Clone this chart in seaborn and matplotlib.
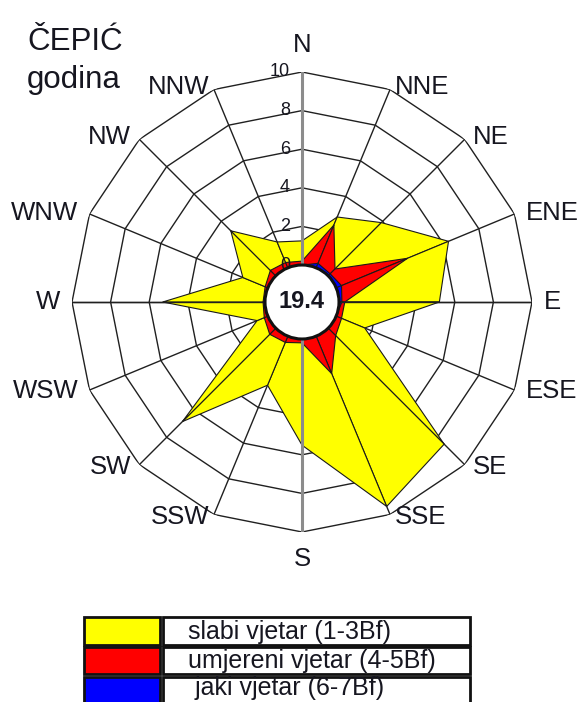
import numpy as np
import matplotlib
matplotlib.use("Agg")
import matplotlib.pyplot as plt
import seaborn as sns
from matplotlib.patches import Rectangle, Circle
from matplotlib.transforms import ScaledTranslation

# ---------------- data ----------------
directions = ["N", "NNE", "NE", "ENE", "E", "ESE", "SE", "SSE",
              "S", "SSW", "SW", "WSW", "W", "WNW", "NW", "NNW"]
slabi = [1.05, 0.45, 3.4, 2.3, 4.9, 1.3, 7.95, 7.45,
         5.3, 2.4, 6.4, 0.4, 5.2, 1.25, 2.9, 1.15]
umjereni = [0.2, 2.15, 0.35, 3.7, 0.15, 0.3, 0.55, 2.1,
            0.2, 0.35, 0.45, 0.2, 0.1, 0.15, 0.4, 0.3]
jaki = [0.0, 0.25, 0.15, 0.3, 0.15, 0.0, 0.0, 0.0,
        0.0, 0.0, 0.0, 0.0, 0.0, 0.0, 0.0, 0.0]
calm = 19.4
ring_ticks = [0, 2, 4, 6, 8, 10]
legend_labels = ["slabi vjetar (1-3Bf)", "umjereni vjetar (4-5Bf)", " jaki vjetar (6-7Bf)"]
layer_colors = ["#FFFF00", "#FF0000", "#0000FF"]
title_lines = ["ČEPIĆ", "godina"]

# ---------------- style ----------------
sns.set_theme(style="white")
plt.rcParams['font.family'] = ['Liberation Sans', 'DejaVu Sans']
TXT = "#161620"

W_PX, H_PX = 581, 702
fig = plt.figure(figsize=(W_PX / 100, H_PX / 100), dpi=100)
cx, cy, R = 302, 302, 230          # centre and outer-ring radius in px
r0_px = 37                          # radius of the calm circle
rorigin = -r0_px * 10 / (R - r0_px)

ax = fig.add_axes([(cx - R) / W_PX, (H_PX - cy - R) / H_PX, 2 * R / W_PX, 2 * R / H_PX],
                  projection='polar')
ax.set_theta_zero_location('N')
ax.set_theta_direction(-1)
ax.set_ylim(0, 10)
ax.set_rorigin(rorigin)
ax.grid(False)
ax.set_xticks([])
ax.set_yticks([])
ax.spines['polar'].set_visible(False)
ax.patch.set_alpha(0)

n = len(directions)
theta = np.linspace(0, 2 * np.pi, n, endpoint=False)
theta_closed = np.append(theta, 2 * np.pi)

# grid: 16-gon rings and spokes
for v in ring_ticks[1:]:
    sns.lineplot(x=theta_closed, y=[v] * (n + 1), ax=ax, sort=False, estimator=None,
                 color="#202020", lw=1.0, zorder=1)
for t in theta:
    ax.plot([t, t], [0, 10], color="#202020", lw=1.0, zorder=1)

# stacked (cumulative) layers
total = np.array(slabi) + np.array(umjereni) + np.array(jaki)
mid = np.array(umjereni) + np.array(jaki)
strong = np.array(jaki)
for vals, col, z in [(total, layer_colors[0], 2), (mid, layer_colors[1], 3), (strong, layer_colors[2], 4)]:
    for i in range(n):
        j = (i + 1) % n
        ti, tj = theta[i], theta_closed[i + 1]
        if vals[i] == 0 and vals[j] == 0:
            continue
        ax.fill([ti, ti, tj, tj], [0, vals[i], vals[j], 0], facecolor=col,
                edgecolor="#1a1a1a", lw=0.8, zorder=z)

# main axes lines on top
ax.plot([0, 0], [0, 10], color="#8c8c8c", lw=2.2, zorder=6)
ax.plot([np.pi, np.pi], [0, 10], color="#8c8c8c", lw=2.2, zorder=6)
ax.plot([np.pi / 2, np.pi / 2], [0, 10], color="#202020", lw=1.0, zorder=6)
ax.plot([3 * np.pi / 2, 3 * np.pi / 2], [0, 10], color="#202020", lw=1.0, zorder=6)

# ring labels on the N axis
off = ScaledTranslation(-12 / 100, 0, fig.dpi_scale_trans)
for v in ring_ticks:
    ax.text(0, v, str(v), ha='right', va='center', fontsize=13, color=TXT,
            transform=ax.transData + off, zorder=7)

# direction labels (placed just outside the outer ring)
for t, d in zip(theta, directions):
    s, c = np.sin(t), np.cos(t)
    if abs(s) < 0.1:
        dx, dy, ha = 0.0, 257 * np.sign(c), 'center'
    else:
        dx, dy = 242 * s, 233 * c
        ha = 'left' if s > 0 else 'right'
    ax.text(0.5 + dx / (2 * R), 0.5 + dy / (2 * R), d, transform=ax.transAxes,
            ha=ha, va='center', fontsize=18.5, color=TXT, zorder=7)

# calm circle
ax.add_patch(Circle((0.5, 0.5), r0_px / (2 * R), transform=ax.transAxes, facecolor='white',
                    edgecolor='#111111', lw=2.2, zorder=10, clip_on=False))
ax.text(0.5, 0.5, f"{calm:.1f}", transform=ax.transAxes, ha='center', va='center',
        fontsize=17, fontweight='bold', color=TXT, zorder=11)

# title
fig.text(27 / W_PX, 1 - 50 / H_PX, title_lines[0], ha='left', va='baseline', fontsize=22.5, color=TXT)
fig.text(27 / W_PX, 1 - 88 / H_PX, title_lines[1], ha='left', va='baseline', fontsize=22.5, color=TXT)

# legend (table-like)
rows = [(617, 645), (647, 674), (677, 705)]
text_centers = [632, 661, 688]
for (y1, y2), yc, lab, col in zip(rows, text_centers, legend_labels, layer_colors):
    fig.add_artist(Rectangle((84 / W_PX, 1 - y2 / H_PX), 76 / W_PX, (y2 - y1) / H_PX,
                             transform=fig.transFigure, facecolor=col, edgecolor='#111111', lw=2))
    fig.add_artist(Rectangle((163 / W_PX, 1 - y2 / H_PX), 307 / W_PX, (y2 - y1) / H_PX,
                             transform=fig.transFigure, facecolor='white', edgecolor='#111111', lw=2))
    fig.text(188 / W_PX, 1 - yc / H_PX, lab, ha='left', va='center',
             fontsize=18, color=TXT)

fig.savefig("out.png", dpi=100)
